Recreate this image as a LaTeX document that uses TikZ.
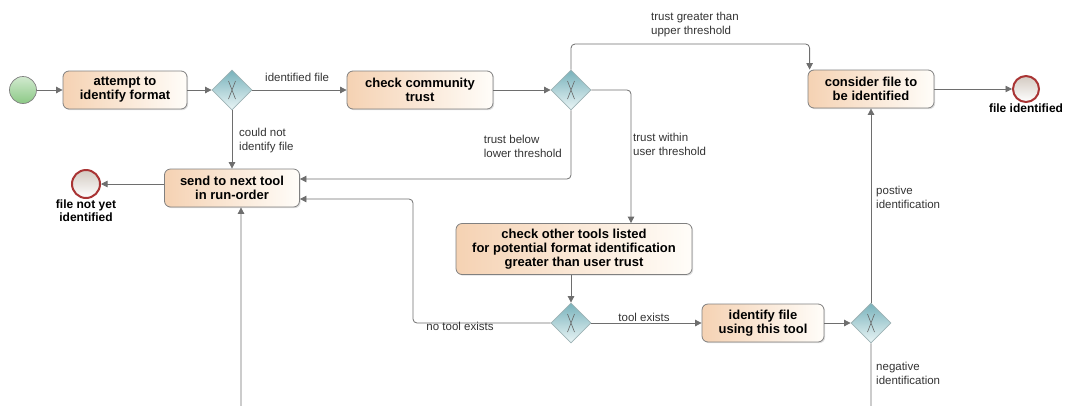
\documentclass[tikz,border=0pt]{standalone}
\usepackage{fontspec}
\setmainfont{Liberation Sans}
\usetikzlibrary{shapes.geometric,arrows.meta,calc,shadows}
\definecolor{task_left}{HTML}{F5D2B3}
\definecolor{task_right}{HTML}{FFFDF9}
\definecolor{task_border}{HTML}{808080}
\definecolor{gw_top}{HTML}{78B2BB}
\definecolor{gw_bottom}{HTML}{EAF5F6}
\definecolor{gw_border}{HTML}{9DB2B5}
\definecolor{flow_gray}{HTML}{6E6E6E}
\definecolor{start_green}{HTML}{8CC986}
\definecolor{end_red}{HTML}{A93434}
\definecolor{end_fill}{HTML}{D3CAC1}

\begin{document}
\begin{tikzpicture}[x=1pt,y=-1pt,
    task/.style={rectangle, rounded corners=6pt, draw=task_border, line width=0.8pt,
      left color=task_left, right color=task_right, align=center, inner sep=0pt,
      font=\bfseries\fontsize{13}{14}\selectfont,
      drop shadow={shadow xshift=1.2pt, shadow yshift=-1.2pt, opacity=0.25}},
    gateway/.style={diamond, aspect=1, minimum size=40pt, inner sep=0pt,
      draw=gw_border, line width=0.8pt, top color=gw_top, bottom color=gw_bottom,
      path picture={\draw[gray!80!black, line width=0.6pt]
        ($(path picture bounding box.center)+(-3.5pt,-9pt)$) -- ++(7pt,18pt)
        ($(path picture bounding box.center)+(3.5pt,-9pt)$) -- ++(-7pt,18pt);}},
    startevent/.style={circle, minimum size=27pt, inner sep=0pt, draw=gray, line width=0.7pt,
      top color=start_green!40!white, bottom color=start_green},
    endevent/.style={circle, minimum size=26pt, inner sep=0pt, draw=end_red, line width=2pt,
      top color=end_fill, bottom color=white},
    endlbl/.style={font=\bfseries\fontsize{12}{13}\selectfont, inner sep=1pt, align=center},
    flow/.style={draw=flow_gray, line width=0.8pt, rounded corners=4pt,
      -{Triangle[width=6.5pt,length=6.5pt]}},
    lbl/.style={font=\fontsize{11.5}{14}\selectfont, text=black!80, align=left, inner sep=1pt},
  ]
  \useasboundingbox (0,0) rectangle (1070,405);
  \clip (0,0) rectangle (1070,405);

  % top row
  \node[startevent] (start) at (23,90) {};
  \node[task, minimum width=124pt, minimum height=38pt] (attempt) at (125,90) {attempt to\\identify format};
  \node[gateway] (gw1) at (232,90) {};
  \node[task, minimum width=146pt, minimum height=38pt] (check) at (420,90) {check community\\trust};
  \node[gateway] (gw2) at (571,90) {};
  \node[task, minimum width=126pt, minimum height=38pt] (consider) at (871,89) {consider file to\\be identified};
  \node[endevent, label={[endlbl]below:file identified}] (endok) at (1026,89) {};

  % middle
  \node[task, minimum width=135pt, minimum height=38pt] (send) at (232,188) {send to next tool\\in run-order};
  \node[endevent, minimum size=28pt, label={[endlbl]below:{file not yet\\identified}}] (endno) at (86,184) {};
  \node[task, minimum width=236pt, minimum height=51pt] (other) at (574,249)
    {check other tools listed\\for potential format identification\\greater than user trust};

  % bottom row
  \node[gateway] (gw3) at (571,323) {};
  \node[task, minimum width=122pt, minimum height=38pt] (identify) at (763,323) {identify file\\using this tool};
  \node[gateway] (gw4) at (871,323) {};

  \coordinate (upper) at (0,44);
  \coordinate (c_right) at (631,0);
  \coordinate (c_left) at (413,0);
  \coordinate (c_bottom) at (241,440);
  \coordinate (sendhi) at ($(send.east)+(0,-9)$);
  \coordinate (sendlo) at ($(send.east)+(0,11)$);
  \coordinate (considerin) at ($(consider.north west)+(2,0)$);

  \draw[flow] (start) -- (attempt);
  \draw[flow] (attempt) -- (gw1);
  \draw[flow] (gw1) -- (check);
  \draw[flow] (check) -- (gw2);
  \draw[flow] (gw2.north) |- (considerin |- upper) -- (considerin);
  \draw[flow] (gw2.east) -| (other.north -| c_right);
  \draw[flow] (gw2.south) |- (sendhi);
  \draw[flow] (gw1.south) -- (send.north);
  \draw[flow] (send.west |- endno) -- (endno);
  \draw[flow] (consider) -- (endok);
  \draw[flow] (other.south -| gw3.north) -- (gw3.north);
  \draw[flow] (gw3.west) -| (c_left |- sendlo) -- (sendlo);
  \draw[flow] (gw3.east) -- (identify.west);
  \draw[flow] (identify) -- (gw4);
  \draw[flow] (gw4.north) -- (consider.south);
  \draw[flow] (gw4.south) |- (c_bottom) -- ($(send.south)+(9,0)$);

  % flow labels
  \node[lbl, anchor=west] (l_idfile) at (264,77) {identified file};
  \node[lbl, anchor=north west] (l_couldnot) at (238,127) {could not\\identify file};
  \node[lbl, anchor=north west] (l_greater) at (650,11) {trust greater than\\upper threshold};
  \node[lbl, anchor=north east] (l_below) at (563,134) {trust below\\lower threshold};
  \node[lbl, anchor=north west] (l_within) at (632,132) {trust within\\user threshold};
  \node[lbl, anchor=north] (l_notool) at (460,321) {no tool exists};
  \node[lbl] (l_tool) at (644,317) {tool exists};
  \node[lbl, anchor=north west] (l_pos) at (875,185) {postive\\identification};
  \node[lbl, anchor=north west] (l_neg) at (875,361) {negative\\identification};
\end{tikzpicture}
\end{document}
